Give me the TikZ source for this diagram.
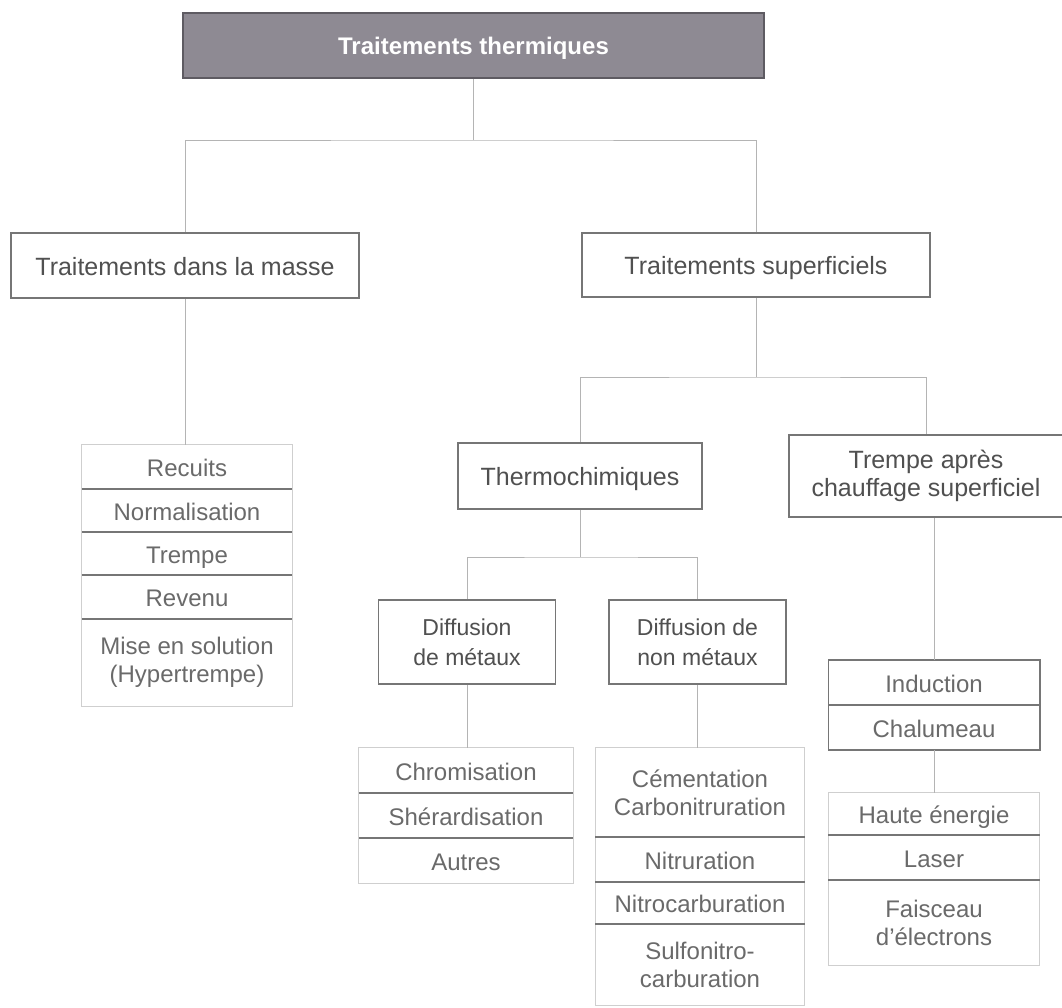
\documentclass[tikz,border=0pt]{standalone}
\usepackage{fontspec}
\setmainfont{Liberation Sans}
\usepackage{tikz}
\usetikzlibrary{calc}
\usetikzlibrary{positioning}

\definecolor{titlefill}{HTML}{8E8A93}
\definecolor{titleedge}{HTML}{5E5B62}
\definecolor{boxgrey}{HTML}{767676}
\definecolor{linkgrey}{HTML}{B4B4B4}
\definecolor{framegrey}{HTML}{CFCFCF}
\definecolor{txtgrey}{HTML}{505050}
\definecolor{itemgrey}{HTML}{6A6A6A}

\tikzset{
	box/.style={draw=boxgrey, line width=1.6pt, fill=white, text=txtgrey, align=center, inner sep=0pt, font=\fontsize{25}{28}\selectfont},
	oneline/.style={text height=21pt, text depth=2pt},
	topbox/.style={box, oneline, fill=titlefill, draw=titleedge, text=white, font=\bfseries\fontsize{24}{28}\selectfont},
	multi/.style={inner sep=0pt, align=center, text=itemgrey, font=\fontsize{24}{28}\selectfont},
	item/.style={multi, oneline},
	link/.style={draw=linkgrey, line width=0.9pt},
	divider/.style={draw=boxgrey, line width=1.6pt},
	frame/.style={draw=framegrey, line width=0.8pt}
}

\begin{document}
\begin{tikzpicture}[x=1pt,y=-1pt]
		\fill[white] (0,0) rectangle (1062,1008);
		\useasboundingbox (0,0) rectangle (1062,1008);

		% niveaux principaux
		\node[topbox, minimum width=581pt, minimum height=65pt] (title) at (473.5,45.5) {Traitements thermiques};
		\node[box, oneline, minimum width=348pt, minimum height=65pt] (masse) at (185,265.5) {Traitements dans la masse};
		\node[box, oneline, minimum width=348pt, minimum height=64pt] (sup) at (756,265) {Traitements superficiels};
		\node[box, oneline, minimum width=244pt, minimum height=66pt] (thermo) at (580,476) {Thermochimiques};
		\node[box, minimum width=274pt, minimum height=82pt] (trempe) at (926,476) {Trempe après\\chauffage superficiel};
		\node[box, minimum width=177pt, minimum height=84pt, font=\fontsize{23}{30}\selectfont] (diffm) at (467,642) {Diffusion\\de métaux};
		\node[box, minimum width=177pt, minimum height=84pt, font=\fontsize{23}{30}\selectfont] (diffn) at (697.5,642) {Diffusion de\\non métaux};

		% traitements dans la masse
		\node[item, minimum width=210pt, minimum height=44pt] (rec1) at (187,467) {Recuits};
		\node[item, minimum width=210pt, minimum height=43pt] (rec2) at (187,510.5) {Normalisation};
		\node[item, minimum width=210pt, minimum height=43pt] (rec3) at (187,553.5) {Trempe};
		\node[item, minimum width=210pt, minimum height=44pt] (rec4) at (187,597) {Revenu};
		\node[multi, minimum width=210pt, minimum height=87pt] (rec5) at (187,662.5) {Mise en solution\\(Hypertrempe)};

		% diffusion de metaux
		\node[item, minimum width=214pt, minimum height=45pt] (chr1) at (466,770.5) {Chromisation};
		\node[item, minimum width=214pt, minimum height=45pt] (chr2) at (466,815.5) {Shérardisation};
		\node[item, minimum width=214pt, minimum height=45pt] (chr3) at (466,860.5) {Autres};

		% diffusion de non metaux
		\node[multi, minimum width=209pt, minimum height=89pt] (cem1) at (700,792.5) {Cémentation\\Carbonitruration};
		\node[item, minimum width=209pt, minimum height=45pt] (cem2) at (700,859.5) {Nitruration};
		\node[item, minimum width=209pt, minimum height=42pt] (cem3) at (700,903) {Nitrocarburation};
		\node[multi, minimum width=209pt, minimum height=81pt] (cem4) at (700,964.5) {Sulfonitro-\\carburation};

		% chauffage superficiel
		\node[item, minimum width=211pt, minimum height=45pt] (ind1) at (934,682.5) {Induction};
		\node[item, minimum width=211pt, minimum height=45pt] (ind2) at (934,727.5) {Chalumeau};
		\node[item, minimum width=211pt, minimum height=42pt] (hen1) at (934,814) {Haute énergie};
		\node[item, minimum width=211pt, minimum height=45pt] (hen2) at (934,857.5) {Laser};
		\node[multi, minimum width=211pt, minimum height=85pt] (hen3) at (934,922.5) {Faisceau\\d'électrons};

		% cadres des listes
		\draw[frame] (rec1.north west) rectangle (rec5.south east);
		\draw[frame] (chr1.north west) rectangle (chr3.south east);
		\draw[frame] (cem1.north west) rectangle (cem4.south east);
		\draw[frame] (hen1.north west) rectangle (hen3.south east);
		\draw[divider] (ind1.north west) rectangle (ind2.south east);

		% separations
		\draw[divider] (rec1.south west) -- (rec1.south east);
		\draw[divider] (rec2.south west) -- (rec2.south east);
		\draw[divider] (rec3.south west) -- (rec3.south east);
		\draw[divider] (rec4.south west) -- (rec4.south east);
		\draw[divider] (chr1.south west) -- (chr1.south east);
		\draw[divider] (chr2.south west) -- (chr2.south east);
		\draw[divider] (cem1.south west) -- (cem1.south east);
		\draw[divider] (cem2.south west) -- (cem2.south east);
		\draw[divider] (cem3.south west) -- (cem3.south east);
		\draw[divider] (ind1.south west) -- (ind1.south east);
		\draw[divider] (hen1.south west) -- (hen1.south east);
		\draw[divider] (hen2.south west) -- (hen2.south east);

		% liaisons
		\coordinate (j1) at (473.5,140);
		\coordinate (j2) at (756,377);
		\coordinate (j3) at (580,557);
		\draw[link] (title) -- (j1);
		\draw[link] (masse.north) |- (j1) -| (sup.north);
		\draw[link] (sup.south) -- (j2);
		\draw[link] (thermo.north) |- (j2) -| (trempe.north);
		\draw[link] (thermo.south) -- (j3);
		\draw[link] (diffm.north) |- (j3) -| (diffn.north);
		\draw[link] (masse.south) -- (rec1.north -| masse.south);
		\draw[link] (diffm.south) -- (chr1.north -| diffm.south);
		\draw[link] (diffn.south) -- (cem1.north -| diffn.south);
		\draw[link] (ind1.north |- trempe.south) -- (ind1.north);
		\draw[link] (ind2.south) -- (hen1.north);
	\end{tikzpicture}
\end{document}
